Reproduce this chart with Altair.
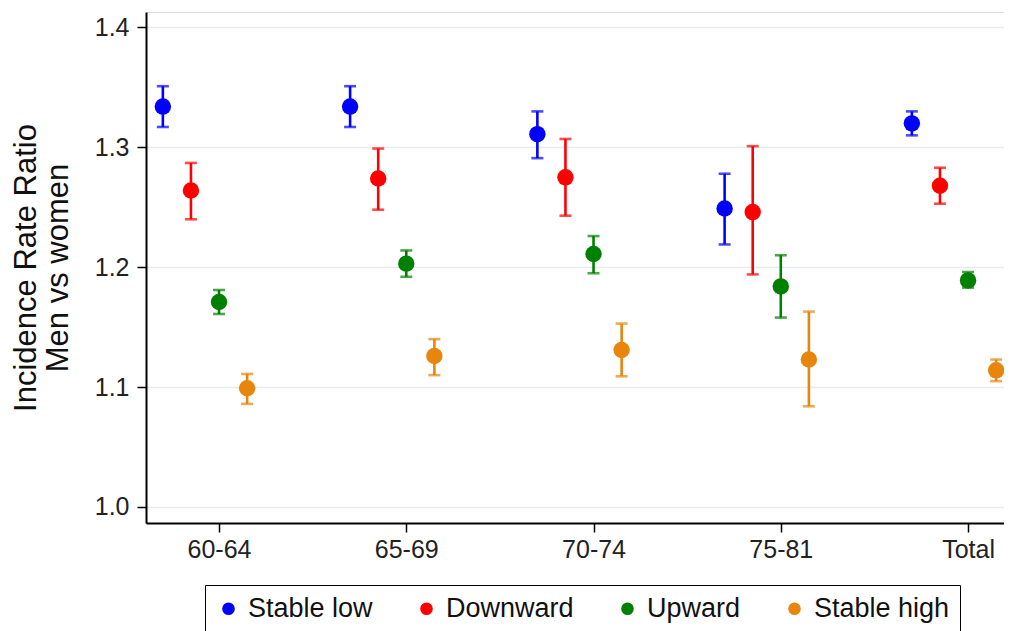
import json
import altair as alt
import pandas as pd

categories = ["60-64", "65-69", "70-74", "75-81", "Total"]
series = ["Stable low", "Downward", "Upward", "Stable high"]
colors = ["#0000ff", "#ff0000", "#008000", "#e8850c"]

est_stable_low = [1.334, 1.334, 1.311, 1.249, 1.320]
lo_stable_low = [1.317, 1.317, 1.291, 1.219, 1.310]
hi_stable_low = [1.351, 1.351, 1.330, 1.278, 1.330]

est_downward = [1.264, 1.274, 1.275, 1.246, 1.268]
lo_downward = [1.240, 1.248, 1.243, 1.194, 1.253]
hi_downward = [1.287, 1.299, 1.307, 1.301, 1.283]

est_upward = [1.171, 1.203, 1.211, 1.184, 1.189]
lo_upward = [1.161, 1.192, 1.195, 1.158, 1.183]
hi_upward = [1.181, 1.214, 1.226, 1.210, 1.196]

est_stable_high = [1.099, 1.126, 1.131, 1.123, 1.114]
lo_stable_high = [1.086, 1.110, 1.109, 1.084, 1.105]
hi_stable_high = [1.111, 1.140, 1.153, 1.163, 1.123]

y_ticks = [1.0, 1.1, 1.2, 1.3, 1.4]

offsets = [-0.30, -0.15, 0.0, 0.15]
ests = [est_stable_low, est_downward, est_upward, est_stable_high]
los = [lo_stable_low, lo_downward, lo_upward, lo_stable_high]
his = [hi_stable_low, hi_downward, hi_upward, hi_stable_high]

rows = []
for s, name in enumerate(series):
    for i, cat in enumerate(categories):
        rows.append({
            "group": name,
            "cat": cat,
            "idx": i,
            "off": offsets[s],
            "est": ests[s][i],
            "lo": los[s][i],
            "hi": his[s][i],
        })
df = pd.DataFrame(rows)

FONT = "Liberation Sans"

label_expr = json.dumps(categories) + "[round(datum.value)]"

x_enc = alt.X(
    "xpos:Q",
    scale=alt.Scale(domain=[-0.39, 4.192], nice=False, zero=False),
    axis=alt.Axis(
        values=list(range(len(categories))),
        labelExpr=label_expr,
        title=None,
        grid=False,
        domainColor="#000000",
        domainWidth=2,
        tickColor="#000000",
        tickWidth=1.5,
        tickSize=9,
        labelFontSize=25,
        labelColor="#222222",
        labelFont=FONT,
        labelPadding=5,
    ),
)

y_scale = alt.Scale(domain=[0.98665, 1.4129], nice=False, zero=False)

color_enc = alt.Color(
    "group:N",
    scale=alt.Scale(domain=series, range=colors),
    legend=alt.Legend(
        title=None,
        orient="none",
        legendX=59,
        legendY=573,
        direction="horizontal",
        columns=4,
        columnPadding=40,
        padding=10,
        strokeColor="#000000",
        symbolType="circle",
        symbolSize=160,
        symbolStrokeWidth=0,
        symbolOpacity=1,
        labelFontSize=27,
        labelFont=FONT,
        labelColor="#111111",
        labelOffset=6,
    ),
)

base = alt.Chart(df).transform_calculate(xpos="datum.idx + datum.off")

rules = base.mark_rule(strokeWidth=2.6).encode(
    x=x_enc,
    y=alt.Y("lo:Q", scale=y_scale),
    y2="hi:Q",
    color=color_enc,
)

caps_lo = base.mark_tick(orient="horizontal", size=12, thickness=2.6).encode(
    x=x_enc,
    y=alt.Y("lo:Q", scale=y_scale),
    color=color_enc,
)
caps_hi = base.mark_tick(orient="horizontal", size=12, thickness=2.6).encode(
    x=x_enc,
    y=alt.Y("hi:Q", scale=y_scale),
    color=color_enc,
)

points = base.mark_circle(size=270, opacity=1).encode(
    x=x_enc,
    y=alt.Y(
        "est:Q",
        scale=y_scale,
        axis=alt.Axis(
            values=y_ticks,
            format=".1f",
            title=["Incidence Rate Ratio", "Men vs women"],
            titleFontSize=31,
            titleFont=FONT,
            titleFontWeight="normal",
            titleColor="#111111",
            titleLineHeight=32,
            titlePadding=20,
            grid=True,
            gridColor="#e4eced",
            gridWidth=1.6,
            domainColor="#000000",
            domainWidth=2,
            tickColor="#000000",
            tickWidth=1.5,
            tickSize=9,
            labelFontSize=25,
            labelColor="#222222",
            labelFont=FONT,
            labelPadding=8,
        ),
    ),
    color=color_enc,
)

chart = (
    alt.layer(rules, caps_lo, caps_hi, points)
    .properties(
        width=858,
        height=511,
        autosize=alt.AutoSizeParams(type="none"),
        padding={"left": 138, "top": 4, "right": 0, "bottom": 108},
    )
    .configure_view(stroke=None)
    .configure(background="#ffffff")
)

chart.save("out.html", embed_options={"renderer": "svg", "actions": False})
